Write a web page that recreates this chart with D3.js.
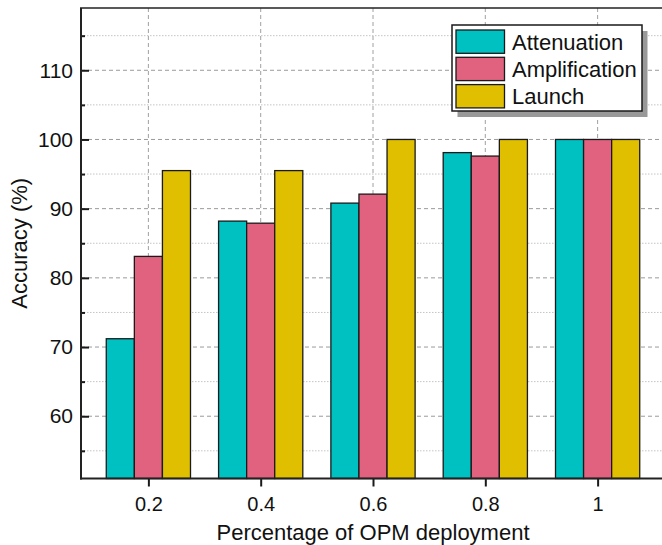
<!DOCTYPE html>
<html>
<head>
<meta charset="utf-8">
<script src="https://cdn.jsdelivr.net/npm/d3@7"></script>
<style>
  html, body { margin: 0; padding: 0; background: #fff; }
  svg { display: block; font-family: "Liberation Sans", Arial, sans-serif; }
</style>
</head>
<body>
<svg id="chart" width="662" height="545"></svg>
<script>
// ---- data ----
const categories = ["0.2", "0.4", "0.6", "0.8", "1"];
const seriesNames = ["Attenuation", "Amplification", "Launch"];
const attenuation = [71.2, 88.2, 90.8, 98.1, 100];
const amplification = [83.1, 87.9, 92.1, 97.6, 100];
const launch = [95.5, 95.5, 100, 100, 100];
const majorTicks = [60, 70, 80, 90, 100, 110];
const minorTicks = [55, 65, 75, 85, 95, 105, 115];
const colors = ["#00C1C1", "#E0627F", "#DFBF00"];

const seriesValues = [attenuation, amplification, launch];

(function draw() {
const svg = d3.select("#chart");
const pL = 81, pR = 665, pT = 8, pB = 478.5;

const x = d3.scalePoint().domain(categories).range([pL, pR]).padding(0.6);
const step = x.step();
const groupW = step * 0.75;
const xs = d3.scaleBand().domain(seriesNames).range([-groupW / 2, groupW / 2]).padding(0);
const y = d3.scaleLinear().domain([51, 119]).range([pB, pT]);

// ---- grid ----
const grid = svg.append("g");
grid.selectAll("line.minor").data(minorTicks).join("line")
  .attr("x1", pL).attr("x2", 662)
  .attr("y1", d => y(d)).attr("y2", d => y(d))
  .attr("stroke", "#c4c4c4").attr("stroke-width", 1).attr("stroke-dasharray", "1.5,1.5");
grid.selectAll("line.major").data(majorTicks).join("line")
  .attr("x1", pL).attr("x2", 662)
  .attr("y1", d => y(d)).attr("y2", d => y(d))
  .attr("stroke", "#9a9a9a").attr("stroke-width", 1).attr("stroke-dasharray", "4,3");
grid.selectAll("line.vert").data(categories).join("line")
  .attr("x1", d => x(d)).attr("x2", d => x(d))
  .attr("y1", pT).attr("y2", pB)
  .attr("stroke", "#a0a0a0").attr("stroke-width", 1).attr("stroke-dasharray", "4,3");

// ---- bars ----
const bars = svg.append("g");
seriesNames.forEach((name, si) => {
  bars.append("g").selectAll("rect").data(seriesValues[si]).join("rect")
    .attr("x", (d, i) => x(categories[i]) + xs(name))
    .attr("width", xs.bandwidth())
    .attr("y", d => y(d))
    .attr("height", d => pB - y(d))
    .attr("fill", colors[si])
    .attr("stroke", "#1a1a1a").attr("stroke-width", 1.3);
});

// ---- axes ----
const yAxis = d3.axisLeft(y).tickValues(majorTicks).tickSize(-8).tickPadding(8).tickFormat(d3.format("d"));
const yG = svg.append("g").attr("transform", `translate(${pL},0)`).call(yAxis);
yG.select(".domain").remove();
yG.selectAll(".tick line").attr("stroke", "#1a1a1a").attr("stroke-width", 2);
yG.selectAll(".tick text").attr("font-size", 21).attr("fill", "#111")
  .attr("x", -8)
  .attr("font-family", "'Liberation Sans', Arial, sans-serif");

const yMinor = d3.axisLeft(y).tickValues(minorTicks).tickSize(-4).tickFormat("");
const yMG = svg.append("g").attr("transform", `translate(${pL},0)`).call(yMinor);
yMG.select(".domain").remove();
yMG.selectAll(".tick line").attr("stroke", "#1a1a1a").attr("stroke-width", 2);

const xAxis = d3.axisBottom(x).tickSize(8).tickPadding(10);
const xG = svg.append("g").attr("transform", `translate(0,${pB})`).call(xAxis);
xG.select(".domain").remove();
xG.selectAll(".tick line").attr("stroke", "#1a1a1a").attr("stroke-width", 2);
xG.selectAll(".tick text").attr("font-size", 20).attr("fill", "#111")
  .attr("font-family", "'Liberation Sans', Arial, sans-serif");

// frame
svg.append("line").attr("x1", pL).attr("x2", pL).attr("y1", pT).attr("y2", pB + 1)
  .attr("stroke", "#222").attr("stroke-width", 2);
svg.append("line").attr("x1", pL - 1).attr("x2", 662).attr("y1", pB).attr("y2", pB)
  .attr("stroke", "#222").attr("stroke-width", 2);
svg.append("line").attr("x1", pL - 1).attr("x2", 662).attr("y1", pT).attr("y2", pT)
  .attr("stroke", "#222").attr("stroke-width", 1.6);

// axis titles
svg.append("text").attr("x", (pL + pR) / 2).attr("y", 540)
  .attr("text-anchor", "middle").attr("font-size", 22).attr("fill", "#111")
  .text("Percentage of OPM deployment");
svg.append("text").attr("transform", `translate(27,${(pT + pB) / 2}) rotate(-90)`)
  .attr("text-anchor", "middle").attr("font-size", 22).attr("fill", "#111")
  .text("Accuracy (%)");

// ---- legend ----
const lg = svg.append("g").attr("transform", "translate(452,25)");
const lgW = 190, lgH = 86;
lg.append("rect").attr("x", 5.5).attr("y", 6).attr("width", lgW).attr("height", lgH).attr("fill", "#999");
lg.append("rect").attr("x", 0).attr("y", 0).attr("width", lgW).attr("height", lgH)
  .attr("fill", "#fff").attr("stroke", "#1a1a1a").attr("stroke-width", 1.5);
const items = lg.selectAll("g.item").data(seriesNames).join("g")
  .attr("transform", (d, i) => `translate(4,${5 + i * 27.3})`);
items.append("rect").attr("width", 48.5).attr("height", 23.3)
  .attr("fill", (d, i) => colors[i]).attr("stroke", "#1a1a1a").attr("stroke-width", 1.3);
items.append("text").attr("x", 56).attr("y", 11.7).attr("dy", "0.36em")
  .attr("font-size", 22).attr("fill", "#111").text(d => d);
})();
</script>
</body>
</html>
